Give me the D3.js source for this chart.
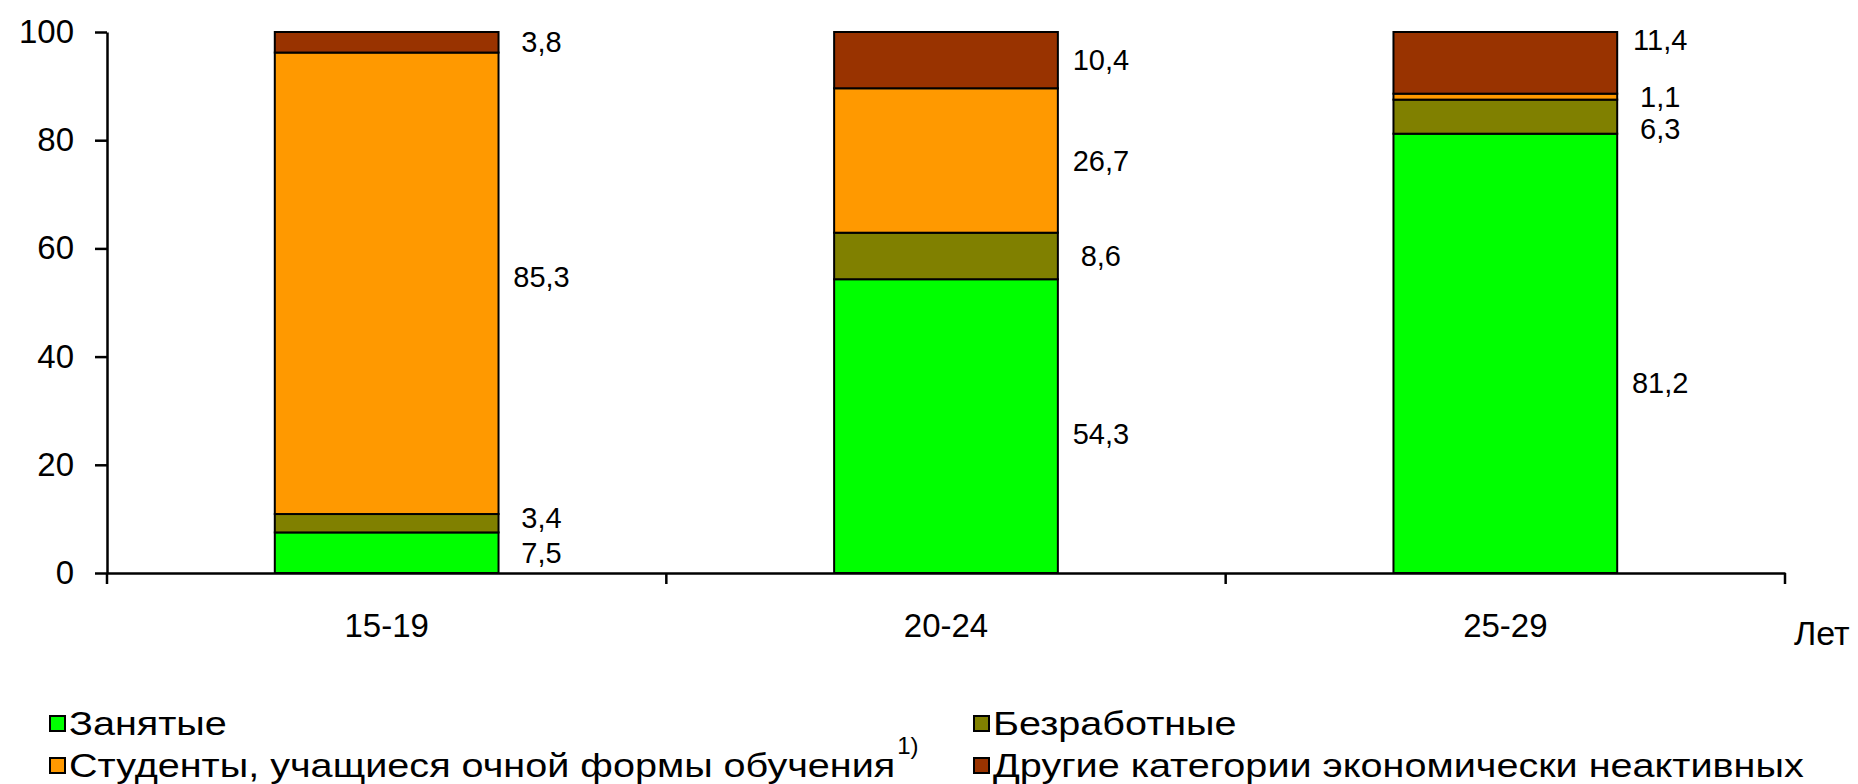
<!DOCTYPE html>
<html>
<head>
<meta charset="utf-8">
<script src="https://cdn.jsdelivr.net/npm/d3@7"></script>
<style>
  html, body { margin: 0; padding: 0; background: #fff; }
  svg { display: block; font-family: "Liberation Sans", Arial, sans-serif; }
</style>
</head>
<body>
<svg id="chart" width="1858" height="784"></svg>
<script>
// ---- data ----
const categories = ["15-19", "20-24", "25-29"];
const seriesNames = [
  "Занятые",
  "Безработные",
  "Студенты, учащиеся очной формы обучения",
  "Другие категории экономически неактивных"
];
const employed   = [7.5, 54.3, 81.2];
const unemployed = [3.4, 8.6, 6.3];
const students   = [85.3, 26.7, 1.1];
const otherInact = [3.8, 10.4, 11.4];
const yTicks = [0, 20, 40, 60, 80, 100];
const axisUnit = "Лет";
const footnoteMark = "1)";

// ---- style / layout ----
const colors = ["#00FF00", "#808000", "#FF9900", "#993300"];
// manual label nudges (layout only): key "category|seriesIndex" -> dy px
const labelNudge = { "25-29|3": -23, "25-29|1": 12, "25-29|0": 29, "20-24|0": 8, "15-19|2": -6, "15-19|1": -5 };

const svg = d3.select("#chart");
const keys = ["s0", "s1", "s2", "s3"];
const seriesValues = [employed, unemployed, students, otherInact];
const table = categories.map((c, i) => {
  const row = { cat: c };
  keys.forEach((k, j) => row[k] = seriesValues[j][i]);
  return row;
});

const x = d3.scaleBand().domain(categories).range([107, 1785]).paddingInner(0.6).paddingOuter(0.3);
const y = d3.scaleLinear().domain([0, 100]).range([573, 32]);

const stacked = d3.stack().keys(keys)(table);

// bars
const g = svg.append("g");
stacked.forEach((layer, si) => {
  g.selectAll(null).data(layer).enter().append("rect")
    .attr("x", d => x(d.data.cat))
    .attr("y", d => y(d[1]))
    .attr("width", x.bandwidth())
    .attr("height", d => y(d[0]) - y(d[1]))
    .attr("fill", colors[si])
    .attr("stroke", "#000")
    .attr("stroke-width", 2);
});

// value labels
stacked.forEach((layer, si) => {
  g.selectAll(null).data(layer).enter().append("text")
    .attr("x", d => x(d.data.cat) + x.bandwidth() + 43)
    .attr("y", d => y((d[0] + d[1]) / 2) + (labelNudge[d.data.cat + "|" + si] || 0))
    .attr("dy", "0.35em")
    .attr("text-anchor", "middle")
    .attr("font-size", 29)
    .attr("fill", "#000")
    .text(d => String(d.data[keys[si]]).replace(".", ","));
});

// y axis
const yAxis = svg.append("g").attr("transform", "translate(107,0)")
  .call(d3.axisLeft(y).tickValues(yTicks).tickSize(12).tickSizeOuter(0).tickPadding(21));
yAxis.selectAll("path, line").attr("stroke", "#000").attr("stroke-width", 2.5);
yAxis.selectAll("text").attr("font-size", 33).attr("fill", "#000").attr("font-family", '"Liberation Sans", Arial, sans-serif');

// x axis
const xAxis = svg.append("g").attr("transform", "translate(0,573)")
  .call(d3.axisBottom(x).tickSize(0).tickSizeOuter(0).tickPadding(0));
xAxis.select(".domain").attr("stroke", "#000").attr("stroke-width", 2.5);
xAxis.selectAll("text").attr("font-size", 33).attr("fill", "#000")
  .attr("font-family", '"Liberation Sans", Arial, sans-serif')
  .attr("y", 64).attr("dy", 0);
// boundary ticks between categories
const bounds = categories.map(c => x(c) + x.bandwidth() / 2 - x.step() / 2)
  .concat([x(categories[categories.length - 1]) + x.bandwidth() / 2 + x.step() / 2]);
xAxis.selectAll(".bound").data(bounds).enter().append("line")
  .attr("class", "bound")
  .attr("x1", d => d).attr("x2", d => d)
  .attr("y1", 0).attr("y2", 11)
  .attr("stroke", "#000").attr("stroke-width", 2.5);
svg.append("text").attr("x", 1794).attr("y", 645).attr("font-size", 34).attr("fill", "#000").text(axisUnit);

// legend
const legendPos = [
  { col: 0, row: 0 }, { col: 1, row: 0 }, { col: 0, row: 1 }, { col: 1, row: 1 }
];
const colX = [50, 974];
const rowY = [735, 777];
const stretch = 1.2;
const lg = svg.append("g");
seriesNames.forEach((name, i) => {
  const p = legendPos[i];
  const lx = colX[p.col], ly = rowY[p.row];
  lg.append("rect").attr("x", lx).attr("y", ly - 19).attr("width", 15).attr("height", 15)
    .attr("fill", colors[i]).attr("stroke", "#000").attr("stroke-width", 2);
  const t = lg.append("text")
    .attr("transform", `translate(${lx + 19},${ly}) scale(${stretch},1)`)
    .attr("font-size", 33).attr("fill", "#000").text(name);
  if (i === 2) {
    const w = t.node().getComputedTextLength() * stretch;
    lg.append("text").attr("x", lx + 19 + w + 2).attr("y", ly - 23).attr("font-size", 24).attr("fill", "#000").text(footnoteMark);
  }
});
</script>
</body>
</html>
